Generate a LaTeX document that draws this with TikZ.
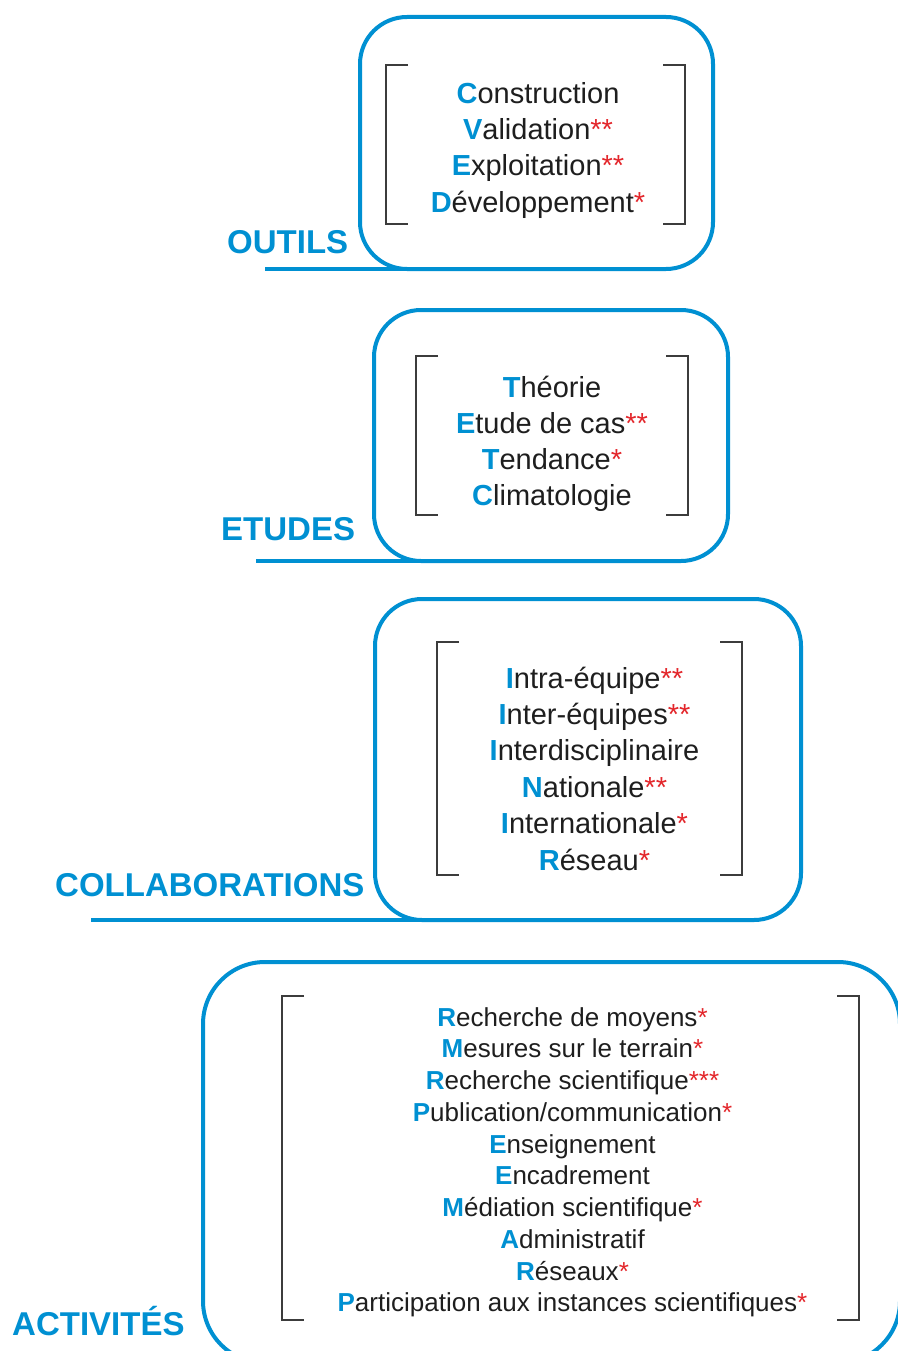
\documentclass[tikz,border=0pt]{standalone}
\usepackage{fontspec}
\setmainfont{Liberation Sans}
\usetikzlibrary{positioning}
\definecolor{BleuTitre}{HTML}{0090D2}
\definecolor{RougeEtoile}{HTML}{E3262B}
\definecolor{GrisTexte}{HTML}{1E1E1E}
\definecolor{GrisCrochet}{HTML}{3C3C3C}
\newcommand{\ini}[1]{{\bfseries\color{BleuTitre}#1}}
\newcommand{\etoile}[1]{{\color{RougeEtoile}#1}}

\begin{document}
\begin{tikzpicture}[
    x=1pt, y=-1pt,
    boite/.style={draw=BleuTitre,line width=4pt,rounded corners=47pt,inner sep=0pt},
    titre/.style={text=BleuTitre,font=\fontsize{33}{40}\selectfont\bfseries,inner sep=0pt,anchor=base west},
    ligne/.style={text=GrisTexte,font=\fontsize{29}{36}\selectfont,inner sep=0pt,anchor=base},
    petite/.style={ligne,font=\fontsize{26}{32}\selectfont},
    crochet/.style={draw=GrisCrochet,line width=1.5pt},
    souligne/.style={draw=BleuTitre,line width=4pt}
  ]
    \useasboundingbox (0,0) rectangle (897,1351);

    % OUTILS
    \node[boite,minimum width=353pt,minimum height=252pt] (b1) at (536.5,143) {};
    \draw[crochet] (408,65) -- (386,65) -- (386,224) -- (408,224);
    \draw[crochet] (663,65) -- (685,65) -- (685,224) -- (663,224);
    \foreach \txt [count=\i from 0] in {\ini{C}onstruction, \ini{V}alidation\etoile{**},
        \ini{E}xploitation\etoile{**}, \ini{D}éveloppement\etoile{*}}
      \node[ligne] (o\i) at (538,104+36*\i) {\txt};
    \node[titre] (l1) at (227,253) {OUTILS};
    \coordinate (s1) at (265,269);
    \draw[souligne] (s1) -- (s1 -| b1.south);

    % ETUDES
    \node[boite,minimum width=354pt,minimum height=251pt] (b2) at (551,435.5) {};
    \draw[crochet] (438,356) -- (416,356) -- (416,515) -- (438,515);
    \draw[crochet] (666,356) -- (688,356) -- (688,515) -- (666,515);
    \foreach \txt [count=\i from 0] in {\ini{T}héorie, \ini{E}tude de cas\etoile{**},
        \ini{T}endance\etoile{*}, \ini{C}limatologie}
      \node[ligne] (e\i) at (552,397+36*\i) {\txt};
    \node[titre] (l2) at (221,540) {ETUDES};
    \coordinate (s2) at (256,561);
    \draw[souligne] (s2) -- (s2 -| b2.south);

    % COLLABORATIONS
    \node[boite,minimum width=426pt,minimum height=321pt] (b3) at (588,759.5) {};
    \draw[crochet] (459,642) -- (437,642) -- (437,875) -- (459,875);
    \draw[crochet] (720,642) -- (742,642) -- (742,875) -- (720,875);
    \foreach \txt [count=\i from 0] in {\ini{I}ntra-équipe\etoile{**}, \ini{I}nter-équipes\etoile{**},
        \ini{I}nterdisciplinaire, \ini{N}ationale\etoile{**}, \ini{I}nternationale\etoile{*},
        \ini{R}éseau\etoile{*}}
      \node[ligne] (c\i) at (594.5,688+36.4*\i) {\txt};
    \node[titre] (l3) at (55,896) {COLLABORATIONS};
    \coordinate (s3) at (91,920);
    \draw[souligne] (s3) -- (s3 -| b3.south);

    % ACTIVITES
    \node[boite,rounded corners=62pt,minimum width=697pt,minimum height=401pt] (b4) at (551.5,1162.5) {};
    \draw[crochet] (304,996) -- (282,996) -- (282,1320) -- (304,1320);
    \draw[crochet] (837,996) -- (859,996) -- (859,1320) -- (837,1320);
    \foreach \txt [count=\i from 0] in {\ini{R}echerche de moyens\etoile{*}, \ini{M}esures sur le terrain\etoile{*},
        \ini{R}echerche scientifique\etoile{***}, \ini{P}ublication/communication\etoile{*},
        \ini{E}nseignement, \ini{E}ncadrement, \ini{M}édiation scientifique\etoile{*},
        \ini{A}dministratif, \ini{R}éseaux\etoile{*}, \ini{P}articipation aux instances scientifiques\etoile{*}}
      \node[petite] (a\i) at (572.5,1026+31.75*\i) {\txt};
    \node[titre] (l4) at (12,1335) {ACTIVITÉS};
  \end{tikzpicture}
\end{document}
